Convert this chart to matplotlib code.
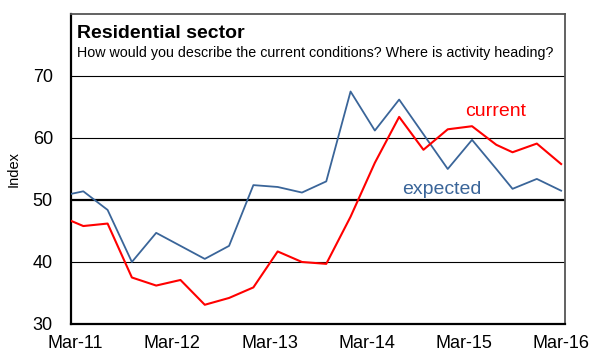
import matplotlib.pyplot as plt

plt.rcParams['font.family'] = ['Liberation Sans', 'DejaVu Sans']

# survey months, counted from Mar-11 (first survey a touch earlier)
months = [-0.45, 1, 4, 7, 10, 13, 16, 19, 22, 25, 28, 31, 34, 37, 40, 43,
          46, 49, 52, 54, 57, 60]
current = [46.6, 45.8, 46.2, 37.5, 36.2, 37.1, 33.1, 34.2, 35.9, 41.7, 40.0,
           39.7, 47.3, 56.0, 63.4, 58.1, 61.4, 61.9, 58.9, 57.7, 59.1, 55.8]
expected = [51.0, 51.4, 48.4, 40.0, 44.7, 42.6, 40.5, 42.6, 52.4, 52.1, 51.2,
            53.0, 67.5, 61.2, 66.2, 60.6, 55.0, 59.7, 55.0, 51.8, 53.4, 51.5]

tick_pos = [0, 12, 24, 36, 48, 60]
tick_labels = ['Mar-11', 'Mar-12', 'Mar-13', 'Mar-14', 'Mar-15', 'Mar-16']
y_ticks = [30, 40, 50, 60, 70]
grid_levels = [40, 60, 70]

fig = plt.figure(figsize=(5.93, 3.56), dpi=100)
ax = fig.add_axes([0.1197, 0.0899, 0.8331, 0.8708])

for g in grid_levels:
    ax.axhline(g, color='black', lw=0.8, zorder=1)
ax.axhline(50, color='black', lw=1.6, zorder=1)

ax.plot(months, expected, color='#3A6599', lw=1.3, zorder=3)
ax.plot(months, current, color='#FF0000', lw=1.5, zorder=3)

ax.set_xlim(-0.52, 60.48)
ax.set_ylim(30, 80)
ax.set_xticks(tick_pos)
ax.set_xticklabels(tick_labels)
ax.set_yticks(y_ticks)
ax.tick_params(axis='both', length=0, labelsize=13)
ax.tick_params(axis='y', pad=13)
ax.tick_params(axis='x', pad=8)
ax.set_ylabel('Index', fontsize=10.5, labelpad=9)

for side in ['left', 'bottom']:
    ax.spines[side].set_linewidth(1.6)
    ax.spines[side].set_color('black')
for side in ['top', 'right']:
    ax.spines[side].set_linewidth(1.3)
    ax.spines[side].set_color('#555555')

ax.text(0.012, 0.923, 'Residential sector', transform=ax.transAxes,
        fontsize=14, fontweight='bold', va='baseline')
ax.text(0.012, 0.862,
        'How would you describe the current conditions? Where is activity heading?',
        transform=ax.transAxes, fontsize=10.3, va='baseline')

ax.text(48.2, 63.6, 'current', color='#FF0000', fontsize=14, va='baseline')
ax.text(40.4, 51.0, 'expected', color='#3A6599', fontsize=14, va='baseline')

fig.savefig('out.png', dpi=100)
